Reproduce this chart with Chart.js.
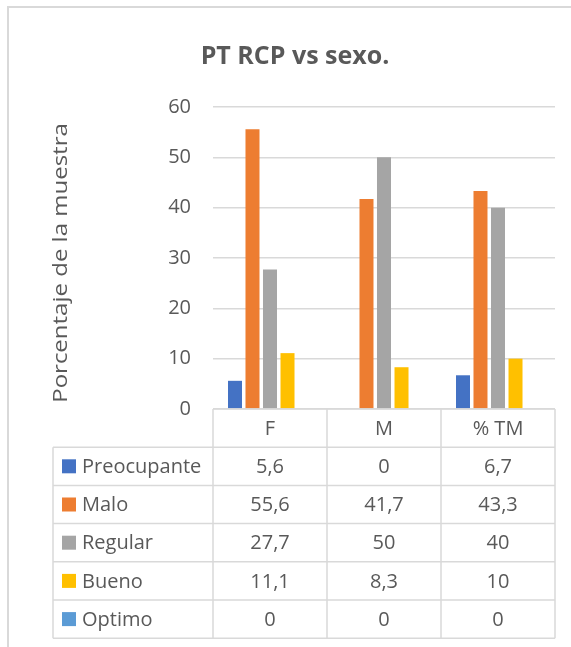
<!DOCTYPE html>
<html>
<head>
<meta charset="utf-8">
<script src="https://cdn.jsdelivr.net/npm/chart.js@4.4.0/dist/chart.umd.min.js"></script>
<style>
  body { margin: 0; background: #fff; }
  canvas { display: block; }
</style>
</head>
<body>
<canvas id="grafico" width="571" height="647"></canvas>
<script>
const categorias = ['F', 'M', '% TM'];
const series = ['Preocupante', 'Malo', 'Regular', 'Bueno', 'Optimo'];
const preocupante = [5.6, 0, 6.7];
const malo = [55.6, 41.7, 43.3];
const regular = [27.7, 50, 40];
const bueno = [11.1, 8.3, 10];
const optimo = [0, 0, 0];
const colores = ['#4472C4', '#ED7D31', '#A5A5A5', '#FFC000', '#5B9BD5'];
const ticksY = [0, 10, 20, 30, 40, 50, 60];
const titulo = 'PT RCP vs sexo.';
const tituloEjeY = 'Porcentaje de la muestra';

const valores = [preocupante, malo, regular, bueno, optimo];
const texto = '#595959';
const linea = '#D9D9D9';
const fuente = '"Open Sans", sans-serif';

function fmt(v) {
    return String(v).replace('.', ',');
}

// marco, titulos y tabla de datos (como en Excel)
const tablaPlugin = {
    id: 'tabla',
    beforeDraw(chart) {
        const ctx = chart.ctx;
        ctx.save();
        ctx.fillStyle = '#fff';
        ctx.fillRect(0, 0, chart.width, chart.height);
        ctx.strokeStyle = linea;
        ctx.lineWidth = 2;
        ctx.beginPath();
        ctx.moveTo(8, chart.height);
        ctx.lineTo(8, 7);
        ctx.lineTo(chart.width, 7);
        ctx.stroke();
        ctx.restore();
    },
    afterDraw(chart) {
        const ctx = chart.ctx;
        const area = chart.chartArea;
        const x = chart.scales.x;
        const n = categorias.length;
        const ancho = (area.right - area.left) / n;
        const izq = 53;
        const top = area.bottom;
        const alto = 38.2;
        const filas = series.length + 1;
        const bottom = top + alto * filas;

        ctx.save();
        // titulo
        ctx.fillStyle = texto;
        ctx.font = 'bold 25px ' + fuente;
        ctx.textAlign = 'center';
        ctx.textBaseline = 'alphabetic';
        ctx.fillText(titulo, 295, 64);

        // titulo del eje Y
        ctx.save();
        ctx.translate(61, (area.top + area.bottom) / 2 + 5);
        ctx.rotate(-Math.PI / 2);
        ctx.scale(1.2, 1);
        ctx.font = '20px ' + fuente;
        ctx.textBaseline = 'middle';
        ctx.fillText(tituloEjeY, 0, 0);
        ctx.restore();

        ctx.strokeStyle = linea;
        ctx.lineWidth = 1.5;
        ctx.beginPath();
        ctx.moveTo(area.left, top);
        ctx.lineTo(area.right, top);
        for (let i = 1; i <= filas; i++) {
            ctx.moveTo(izq, top + alto * i);
            ctx.lineTo(area.right, top + alto * i);
        }
        ctx.moveTo(izq, top + alto);
        ctx.lineTo(izq, bottom);
        for (let j = 0; j <= n; j++) {
            const xx = area.left + ancho * j;
            ctx.moveTo(xx, top);
            ctx.lineTo(xx, bottom);
        }
        ctx.stroke();

        ctx.fillStyle = texto;
        ctx.font = '20px ' + fuente;
        ctx.textAlign = 'center';
        ctx.textBaseline = 'middle';
        categorias.forEach((c, j) => {
            ctx.fillText(c, x.getPixelForValue(j), top + alto / 2 + 1);
        });

        series.forEach((s, i) => {
            const yc = top + alto * (i + 1.5) + 1;
            ctx.fillStyle = colores[i];
            ctx.fillRect(62, yc - 8, 14, 14);
            ctx.fillStyle = texto;
            ctx.textAlign = 'left';
            ctx.fillText(s, 82, yc);
            ctx.textAlign = 'center';
            valores[i].forEach((v, j) => {
                ctx.fillText(fmt(v), x.getPixelForValue(j), yc);
            });
        });
        ctx.restore();
    }
};

new Chart(document.getElementById('grafico'), {
    type: 'bar',
    data: {
        labels: categorias,
        datasets: series.map((s, i) => ({
            label: s,
            data: valores[i],
            backgroundColor: colores[i],
            borderWidth: 0,
            categoryPercentage: 0.768,
            barPercentage: 0.8
        }))
    },
    options: {
        responsive: false,
        animation: false,
        devicePixelRatio: 1,
        layout: {
            padding: { left: 0, right: 16, top: 107, bottom: 238 }
        },
        plugins: {
            legend: { display: false },
            tooltip: { enabled: false },
            title: { display: false }
        },
        scales: {
            x: {
                grid: { display: false },
                border: { display: false },
                ticks: { display: false },
                afterFit(s) { s.height = 0; }
            },
            y: {
                min: 0,
                max: 60,
                afterBuildTicks(s) { s.ticks = ticksY.map(v => ({ value: v })); },
                afterFit(s) { s.width = 213; },
                grid: { color: linea, lineWidth: 1.5, drawTicks: false },
                border: { display: false },
                ticks: {
                    color: texto,
                    padding: 22,
                    font: { family: fuente, size: 20 }
                }
            }
        }
    },
    plugins: [tablaPlugin]
});
</script>
</body>
</html>
